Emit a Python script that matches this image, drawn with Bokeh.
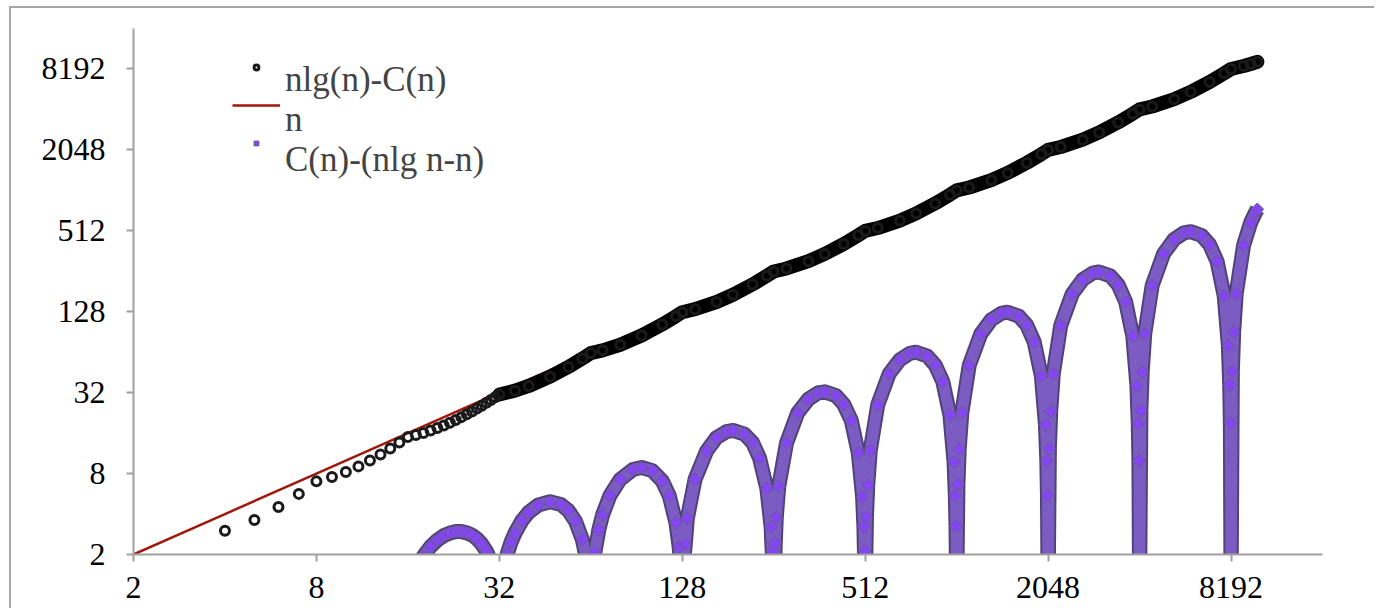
import math
from bokeh.plotting import figure
from bokeh.models import Range1d, FixedTicker, Legend, LegendItem
from bokeh.core.properties import value
from bokeh.embed import file_html
from bokeh.resources import INLINE

# ---------------- data ----------------
# nlg(n)-C(n) : small n, individually visible circles
n_small = [4, 5, 6, 7, 8, 9, 10, 11, 12, 13, 14, 15, 16, 17, 18, 19, 20, 21, 22,
           23, 24, 25, 26, 27, 28, 29, 30, 31]
nlg_small = [3.00, 3.61, 4.51, 5.65, 7.00, 7.53, 8.22, 9.05, 10.02, 11.11, 12.30,
             13.60, 15.00, 15.49, 16.06, 16.71, 17.44, 18.24, 19.11, 20.04, 21.04,
             22.10, 23.21, 24.38, 25.61, 26.88, 28.21, 29.58]

# nlg(n)-C(n) : larger n (dense band)
n_big = [32, 36, 40, 47, 54, 60, 64, 70, 80, 94, 110, 122, 128, 141, 166, 188, 218,
         243, 256, 282, 333, 377, 435, 486, 512, 563, 666, 754, 870, 973, 1024, 1126,
         1331, 1507, 1741, 1946, 2048, 2253, 2662, 3015, 3482, 3891, 4096, 4506, 5325,
         6029, 6963, 7782, 8192, 9011, 9503, 10000]
nlg_big = [31.0, 33.12, 35.88, 42.07, 49.76, 57.41, 63.0, 66.05, 72.75, 85.13, 102.95,
           118.55, 127.0, 133.76, 151.18, 171.26, 204.38, 236.80, 255.0, 268.52, 304.37,
           344.52, 408.76, 474.61, 511.0, 537.04, 609.74, 690.04, 818.52, 951.21, 1023.0,
           1075.08, 1219.47, 1380.09, 1639.03, 1903.42, 2047.0, 2152.16, 2439.94, 2762.17,
           3279.07, 3806.85, 4095.0, 4305.32, 4881.89, 5524.35, 6558.13, 7614.69, 8191.0,
           8610.64, 8915.3, 9259.9]

# n (reference line)
n_ref = [2, 4, 8, 16, 32, 64, 128, 256, 512, 1024, 2048, 4096, 8192, 10000]
ref_vals = [2, 4, 8, 16, 32, 64, 128, 256, 512, 1024, 2048, 4096, 8192, 10000]

# C(n)-(nlg n-n)
n_c = [17, 18, 19, 20, 21, 22, 23, 24, 25, 26, 27, 28, 29, 30, 31, 32,
       33, 34, 35, 36, 38, 40, 43, 47, 51, 54, 57, 60, 62, 63, 64,
       65, 66, 68, 70, 74, 80, 88, 94, 102, 110, 116, 122, 125, 127, 128,
       129, 131, 133, 141, 154, 166, 179, 188, 205, 218, 230, 243, 251, 253, 255, 256,
       259, 261, 266, 282, 307, 333, 358, 377, 410, 435, 461, 486, 502, 507, 509, 512,
       517, 522, 532, 563, 614, 666, 717, 754, 819, 870, 922, 973, 1004, 1014, 1019, 1024,
       1034, 1044, 1065, 1126, 1229, 1331, 1434, 1507, 1638, 1741, 1843, 1946, 2007, 2028,
       2038, 2048,
       2068, 2089, 2130, 2253, 2458, 2662, 2867, 3015, 3277, 3482, 3686, 3891, 4014, 4055,
       4076, 4096,
       4137, 4178, 4260, 4506, 4915, 5325, 5734, 6029, 6554, 6963, 7373, 7782, 8028, 8110,
       8151, 8192,
       8274, 8356, 8520, 9011, 9503, 9830, 10000]
c_vals = [1.51, 1.94, 2.29, 2.56, 2.76, 2.89, 2.96, 2.96, 2.90, 2.79, 2.62, 2.39, 2.12, 1.79, 1.42, 1.00,
          1.54, 2.03, 2.48, 2.88, 3.58, 4.12, 4.67, 4.93, 4.71, 4.24, 3.53, 2.59, 1.84, 1.43, 1.00,
          1.55, 2.07, 3.05, 3.95, 5.50, 7.25, 8.57, 8.87, 8.41, 7.05, 5.47, 3.45, 2.28, 1.44, 1.00,
          1.70, 2.39, 3.71, 7.24, 11.80, 14.82, 16.41, 16.74, 15.73, 13.62, 10.42, 6.20, 3.19, 2.11, 1.56, 1.00,
          2.41, 3.78, 6.42, 13.48, 22.60, 28.63, 31.82, 32.48, 30.46, 26.24, 19.84, 11.39, 5.38, 3.23, 2.12, 1.00,
          3.82, 6.56, 11.83, 25.96, 44.19, 56.26, 62.64, 63.96, 59.92, 51.48, 38.68, 21.79, 9.77, 5.46, 3.25, 1.00,
          6.64, 12.12, 22.66, 50.92, 87.39, 111.53, 124.29, 126.91, 118.85, 101.97, 76.37, 42.58, 18.54, 9.92,
          5.50, 1.00,
          12.28, 23.24, 44.33, 100.84, 173.78, 222.06, 247.58, 252.83, 236.70, 202.93, 151.73, 84.15, 36.07, 18.84,
          9.99, 1.00,
          23.55, 45.47, 87.65, 200.68, 346.55, 443.11, 494.15, 504.65, 472.40, 404.87, 302.47, 167.31, 71.15, 36.68,
          18.98, 1.00,
          46.10, 89.95, 174.31, 400.36, 587.7, 692.11, 740.1]

axis_ticks = [2, 8, 32, 128, 512, 2048, 8192]
tick_labels = ["2", "8", "32", "128", "512", "2048", "8192"]
series_labels = ["nlg(n)-C(n)", "n", "C(n)-(nlg n-n)"]

# ---------------- figure ----------------
FONT = "Liberation Serif"

p = figure(width=1365, height=602, x_axis_type="log", y_axis_type="log",
           x_range=Range1d(2, 16384), y_range=Range1d(2, 16384),
           output_backend="svg", toolbar_location=None,
           min_border_left=122, min_border_right=54, min_border_top=20,
           min_border_bottom=56)
p.styles = {"margin-left": "9px", "margin-top": "6px",
            "border-left": "2px solid #a6a6a6", "border-top": "2px solid #a6a6a6"}
p.background_fill_color = "white"
p.border_fill_color = "white"
p.outline_line_color = None
p.xgrid.visible = False
p.ygrid.visible = False

red = p.line(n_ref, ref_vals, line_color="#A0180C", line_width=2.5)

p.line(n_big, nlg_big, line_color="black", line_width=14,
       line_join="round", line_cap="round")
black_small = p.scatter(n_small, nlg_small, marker="circle", size=9, fill_alpha=0,
                        line_color="#1a1a1a", line_width=3)
p.scatter(n_big, nlg_big, marker="circle", size=9, fill_alpha=0,
          line_color="#1a1a1a", line_width=3)

p.line(n_c, c_vals, line_color="#52427a", line_width=15, line_join="round")
p.line(n_c, c_vals, line_color="#7a5cc2", line_width=11, line_join="round")
purple = p.scatter(n_c, c_vals, marker="square", angle=math.pi / 4, size=9,
                   fill_color="#8445f2", line_color="#6b5a8c", line_width=1)

for ax in (p.xaxis[0], p.yaxis[0]):
    ax.ticker = FixedTicker(ticks=axis_ticks, minor_ticks=[])
    ax.major_label_overrides = {t: l for t, l in zip(axis_ticks, tick_labels)}
    ax.axis_line_color = "#a0a0a0"
    ax.axis_line_width = 2
    ax.major_tick_line_color = "#a0a0a0"
    ax.major_tick_line_width = 2
    ax.major_tick_out = 7
    ax.major_tick_in = 0
    ax.minor_tick_line_color = None
    ax.major_label_text_font = FONT
    ax.major_label_text_font_size = "32px"
    ax.major_label_text_color = "black"
p.xaxis.major_label_standoff = 15
p.yaxis.major_label_standoff = 21

# legend: glyph column (sits a little higher, as in the original)
legend_glyphs = Legend(items=[LegendItem(label=value(""), renderers=[black_small]),
                              LegendItem(label=value(""), renderers=[red]),
                              LegendItem(label=value(""), renderers=[purple])],
                       location=(99, 392), orientation="vertical",
                       glyph_width=48, glyph_height=12, label_height=38, spacing=0,
                       padding=0, margin=0, label_standoff=0,
                       label_text_font_size="1px",
                       border_line_alpha=0, background_fill_alpha=0)
# legend: label column
legend_labels = Legend(items=[LegendItem(label=series_labels[0], renderers=[]),
                              LegendItem(label=series_labels[1], renderers=[]),
                              LegendItem(label=series_labels[2], renderers=[])],
                       location=(152, 374), orientation="vertical",
                       glyph_width=0, glyph_height=12, label_height=38, spacing=-2,
                       padding=0, margin=0, label_standoff=0,
                       label_text_font=FONT, label_text_font_size="35px",
                       border_line_alpha=0, background_fill_alpha=0)
p.add_layout(legend_glyphs)
p.add_layout(legend_labels)

open("out.html", "w").write(file_html(p, INLINE))
